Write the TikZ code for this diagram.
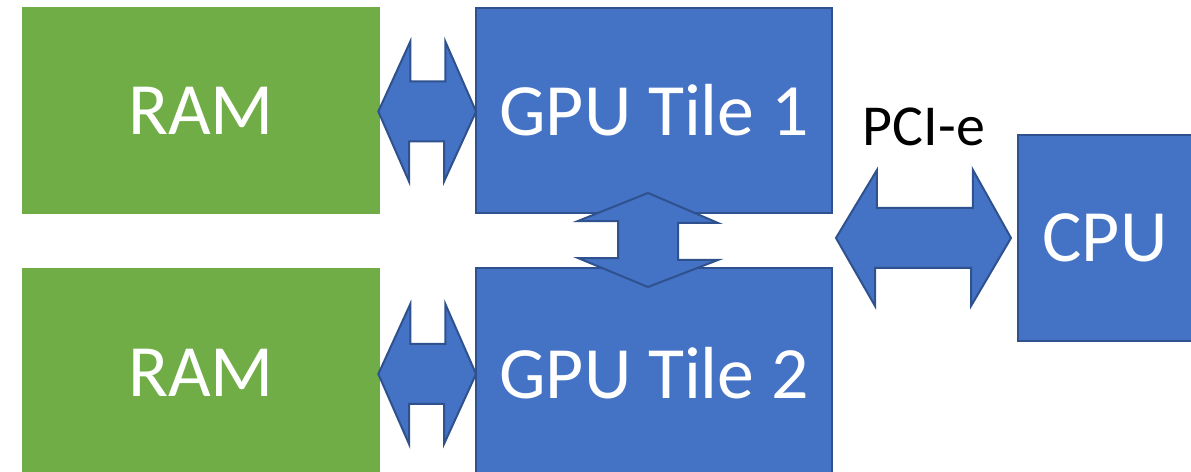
\documentclass[tikz,border=0pt]{standalone}
\usepackage{fontspec}
\setmainfont{Carlito}
\usepackage{xcolor}
\usepackage{tikz}
\usetikzlibrary{positioning,calc}

\definecolor{ramgreen}{HTML}{70AD47}
\definecolor{gpublue}{HTML}{4472C4}
\definecolor{gpuedge}{HTML}{2F528F}

\tikzset{
    ram/.style={fill=ramgreen, text=white, font=\fontsize{42}{50}\selectfont, inner sep=0pt},
    gpu/.style={fill=gpublue, draw=gpuedge, line width=0.04cm, text=white, font=\fontsize{42}{50}\selectfont, inner sep=0pt},
    bus/.style={fill=gpublue, draw=gpuedge, line width=0.04cm, line join=miter}
}

\begin{document}
\begin{tikzpicture}[x=0.02cm, y=-0.02cm]
    \useasboundingbox (0,0) rectangle (1191,472);
    \fill[white] (0,0) rectangle (1191,472);
    % memory and tiles
    \node[ram, minimum width=7.16cm, minimum height=4.14cm] (ram1) at (201,110.5) {RAM};
    \node[ram, minimum width=7.16cm, minimum height=4.2cm] (ram2) at (201,373) {RAM};
    \node[gpu, minimum width=7.12cm, minimum height=4.1cm] (gpu1) at (654,110.5) {GPU Tile 1};
    \node[gpu, minimum width=7.12cm, minimum height=4.2cm] (gpu2) at (654,373) {GPU Tile 2};
    \node[gpu, minimum width=3.48cm, minimum height=4.12cm] (cpu) at (1105,238) {CPU};
    \node[font=\fontsize{33}{40}\selectfont] (pcie) at (924,127) {PCI-e};
    % RAM <-> tile links
    \foreach \r/\g in {ram1/gpu1, ram2/gpu2} {
        \coordinate (t1) at ($(\r.east)+(-2,1)$);
        \coordinate (t2) at ($(\g.west)+(1,1)$);
        \draw[bus] (t1) -- ++(32,-70) -- ++(0,40) -- ++(35,0) -- ++(0,-40) -- (t2)
            -- ++(-32,70) -- ++(0,-40) -- ++(-35,0) -- ++(0,40) -- cycle;
    }
    % tile <-> tile link
    \coordinate (vt) at ($(gpu1.south)+(-6,-21)$);
    \coordinate (vb) at ($(gpu2.north)+(-6,20)$);
    \draw[bus] (vt) -- ++(70,30) -- ++(-40,0) -- ++(0,37) -- ++(40,0) -- (vb)
        -- ++(-70,-29) -- ++(40,0) -- ++(0,-37) -- ++(-40,0) -- cycle;
    % PCI-e link
    \coordinate (pl) at ($(gpu1.east |- cpu.west)+(3,0)$);
    \coordinate (pr) at ($(cpu.west)+(-6,0)$);
    \draw[bus] (pl) -- ++(41,-68) -- ++(0,38) -- ++(96,0) -- ++(0,-38) -- (pr)
        -- ++(-40,68) -- ++(0,-38) -- ++(-96,0) -- ++(0,38) -- cycle;
\end{tikzpicture}
\end{document}
